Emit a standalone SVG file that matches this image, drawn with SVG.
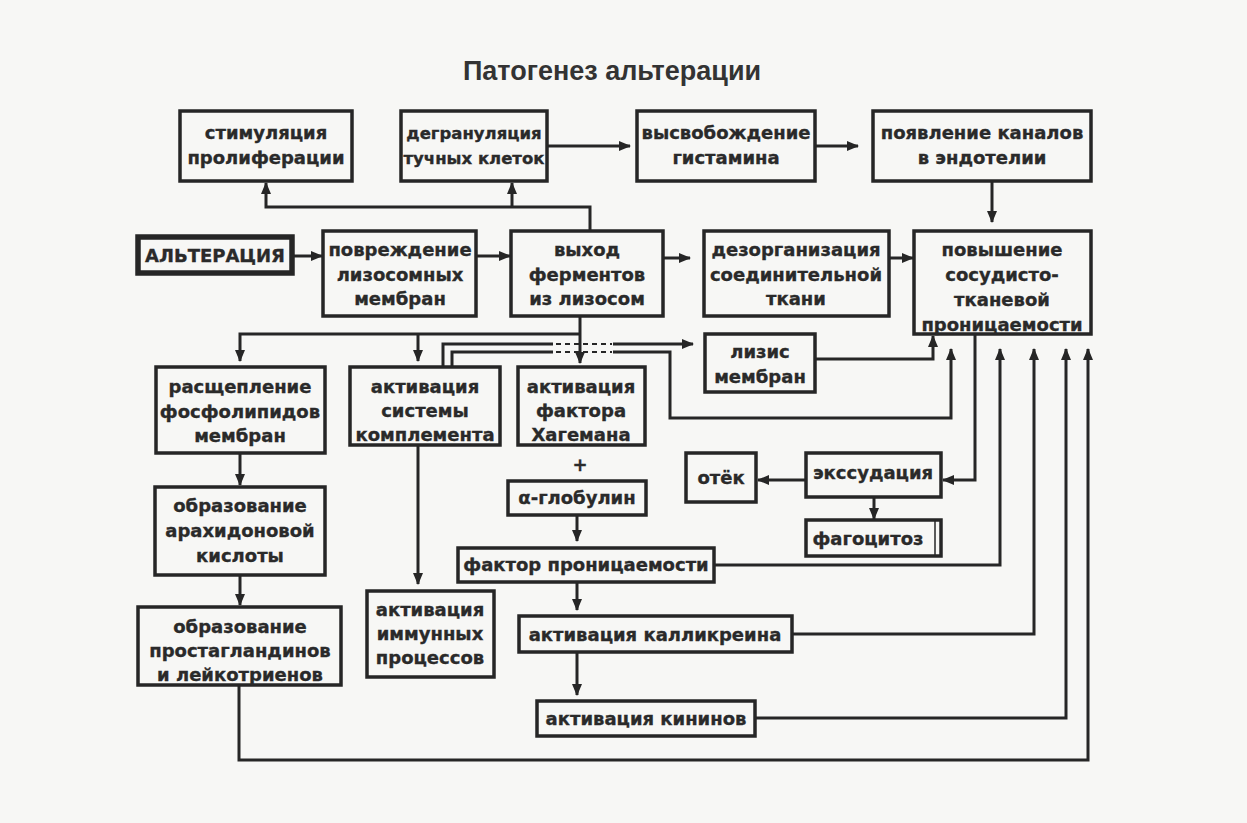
<svg xmlns="http://www.w3.org/2000/svg" width="1247" height="823" viewBox="0 0 1247 823">
<defs>
<marker id="ah" markerUnits="userSpaceOnUse" markerWidth="12" markerHeight="10" refX="11" refY="5" orient="auto">
<path d="M0,0 L12,5 L0,10 Z" fill="#262626"/>
</marker>
<style>
.b{fill:none;stroke:#262626;stroke-width:3.5}
.t{font-family:"DejaVu Sans","Verdana",sans-serif;font-weight:bold;font-size:18px;fill:#2a2a2a;stroke:#2a2a2a;stroke-width:0.35;text-anchor:middle}
.s{font-size:16.5px}
.c{fill:none;stroke:#262626;stroke-width:3}
.a{marker-end:url(#ah)}
.d{fill:none;stroke:#262626;stroke-width:2;stroke-dasharray:5,4}
</style>
</defs>
<rect width="1247" height="823" fill="#f7f7f5"/>
<text x="612" y="80" style="font-family:'Liberation Sans',Arial,sans-serif;font-weight:bold;font-size:27px;fill:#333;text-anchor:middle">Патогенез альтерации</text>

<g id="connectors">
<path class="c a" d="M292,256 H322"/>
<path class="c a" d="M476,256 H510"/>
<path class="c a" d="M663,258 H690"/>
<path class="c a" d="M889,258 H913"/>
<path class="c a" d="M547,146 H630"/>
<path class="c a" d="M815,146 H858"/>
<path class="c a" d="M992,181 V222"/>
<path class="c a" d="M590,231 V207 H266 V183"/>
<path class="c a" d="M512,207 V183"/>
<path class="c a" d="M580,316 V363"/>
<path class="c a" d="M580,334 H240 V361"/>
<path class="c a" d="M418,334 V361"/>
<path class="c" d="M443,367 V344 H553"/>
<path class="d" d="M556,344 H612"/>
<path class="c a" d="M613,344 H693"/>
<path class="c" d="M452,367 V352 H553"/>
<path class="d" d="M556,352 H612"/>
<path class="c a" d="M613,352 H670 V418 H951 V349"/>
<path class="c a" d="M815,359 H933 V336"/>
<path class="c a" d="M975,334 V480 H943"/>
<path class="c a" d="M806,480 H758"/>
<path class="c a" d="M874,497 V519"/>
<path class="c a" d="M714,565 H1000 V349"/>
<path class="c a" d="M792,634 H1034 V349"/>
<path class="c a" d="M755,718 H1066 V349"/>
<path class="c a" d="M239,685 V760 H1088 V349"/>
<path class="c a" d="M418,445 V584"/>
<path class="c a" d="M240,453 V485"/>
<path class="c a" d="M240,575 V605"/>
<path class="c a" d="M577,515 V541"/>
<path class="c a" d="M577,582 V610"/>
<path class="c a" d="M577,652 V695"/>
</g>

<g id="n1"><rect class="b" x="180" y="111" width="172" height="70"/><text class="t" x="266" y="139">стимуляция</text><text class="t" x="266" y="164">пролиферации</text></g>
<g id="n2"><rect class="b" x="401" y="111" width="146" height="70"/><text class="t s" x="474" y="139">дегрануляция</text><text class="t s" x="474" y="164">тучных клеток</text></g>
<g id="n3"><rect class="b" x="637" y="111" width="178" height="70"/><text class="t" x="726" y="139">высвобождение</text><text class="t" x="726" y="164">гистамина</text></g>
<g id="n4"><rect class="b" x="873" y="111" width="218" height="70"/><text class="t" x="982" y="139">появление каналов</text><text class="t" x="982" y="164">в эндотелии</text></g>
<g id="n5"><rect fill="none" stroke="#262626" stroke-width="5.5" x="138" y="237" width="154" height="36"/><text class="t" x="215" y="262">АЛЬТЕРАЦИЯ</text></g>
<g id="n6"><rect class="b" x="323" y="231" width="153" height="85"/><text class="t" x="400" y="256">повреждение</text><text class="t" x="400" y="281">лизосомных</text><text class="t" x="400" y="305">мембран</text></g>
<g id="n7"><rect class="b" x="511" y="231" width="152" height="85"/><text class="t" x="587" y="256">выход</text><text class="t" x="587" y="281">ферментов</text><text class="t" x="587" y="305">из лизосом</text></g>
<g id="n8"><rect class="b" x="704" y="231" width="185" height="85"/><text class="t" x="796" y="256">дезорганизация</text><text class="t" x="796" y="281">соединительной</text><text class="t" x="796" y="305">ткани</text></g>
<g id="n9"><rect class="b" x="914" y="231" width="177" height="103"/><text class="t" x="1002" y="256">повышение</text><text class="t" x="1002" y="281">сосудисто-</text><text class="t" x="1002" y="306">тканевой</text><text class="t" x="1002" y="331">проницаемости</text></g>
<g id="n10"><rect class="b" x="705" y="334" width="110" height="58"/><text class="t" x="760" y="358">лизис</text><text class="t" x="760" y="383">мембран</text></g>
<g id="n11"><rect class="b" x="156" y="367" width="169" height="86"/><text class="t" x="240" y="393">расщепление</text><text class="t" x="240" y="418">фосфолипидов</text><text class="t" x="240" y="442">мембран</text></g>
<g id="n12"><rect class="b" x="350" y="367" width="150" height="78"/><text class="t" x="425" y="393">активация</text><text class="t" x="425" y="417">системы</text><text class="t" x="425" y="441">комплемента</text></g>
<g id="n13"><rect class="b" x="518" y="367" width="127" height="78"/><text class="t" x="581" y="393">активация</text><text class="t" x="581" y="417">фактора</text><text class="t" x="581" y="441">Хагемана</text></g>
<text class="t" x="580" y="471">+</text>
<g id="n14"><rect class="b" x="508" y="481" width="138" height="34"/><text class="t" x="577" y="504">α-глобулин</text></g>
<g id="n15"><rect class="b" x="686" y="453" width="70" height="49"/><text class="t" x="721" y="484">отёк</text></g>
<g id="n16"><rect class="b" x="806" y="453" width="135" height="44"/><text class="t" x="873" y="479">экссудация</text></g>
<g id="n17"><rect class="b" x="806" y="520" width="135" height="36"/><line x1="935" y1="521" x2="935" y2="555" stroke="#262626" stroke-width="1.5"/><text class="t" x="868" y="545">фагоцитоз</text></g>
<g id="n18"><rect class="b" x="155" y="487" width="170" height="88"/><text class="t" x="240" y="512">образование</text><text class="t" x="240" y="537">арахидоновой</text><text class="t" x="240" y="562">кислоты</text></g>
<g id="n19"><rect class="b" x="458" y="548" width="256" height="34"/><text class="t" x="586" y="571">фактор проницаемости</text></g>
<g id="n20"><rect class="b" x="367" y="591" width="127" height="86"/><text class="t" x="430" y="616">активация</text><text class="t" x="430" y="640">иммунных</text><text class="t" x="430" y="664">процессов</text></g>
<g id="n21"><rect class="b" x="138" y="607" width="203" height="78"/><text class="t" x="240" y="633">образование</text><text class="t" x="240" y="657">простагландинов</text><text class="t" x="240" y="681">и лейкотриенов</text></g>
<g id="n22"><rect class="b" x="519" y="616" width="273" height="36"/><text class="t" x="655" y="641">активация калликреина</text></g>
<g id="n23"><rect class="b" x="537" y="701" width="218" height="35"/><text class="t" x="646" y="725">активация кининов</text></g>
</svg>
